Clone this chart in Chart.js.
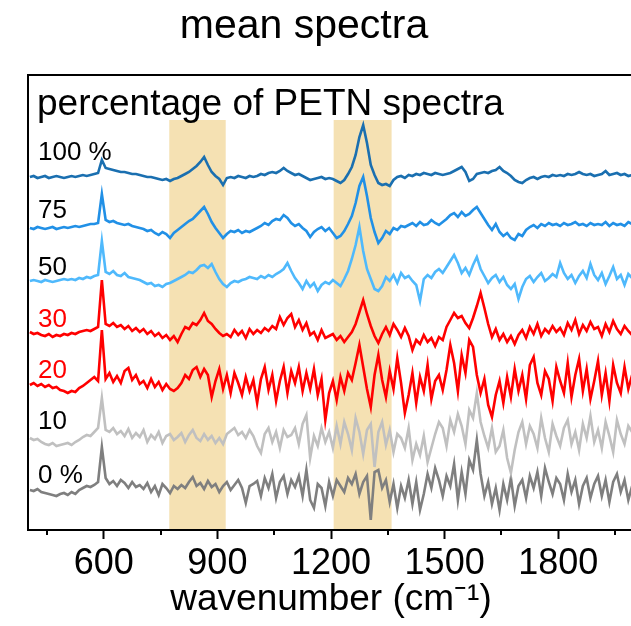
<!DOCTYPE html>
<html>
<head>
<meta charset="utf-8">
<script src="https://cdn.jsdelivr.net/npm/chart.js@4.4.1/dist/chart.umd.min.js"></script>
<style>
  html, body { margin: 0; padding: 0; background: #fff; overflow: hidden; }
  #wrap { width: 631px; height: 626px; overflow: hidden; }
</style>
</head>
<body>
<div id="wrap"><canvas id="grafico" width="660" height="626"></canvas></div>
<script>
// eixo x: numero de onda (cm-1), amostrado a cada 10
const wavenumber = [
  405, 415, 425, 435, 445, 455, 465, 475, 485, 495,
  505, 515, 525, 535, 545, 555, 565, 575, 585, 595,
  605, 615, 625, 635, 645, 655, 665, 675, 685, 695,
  705, 715, 725, 735, 745, 755, 765, 775, 785, 795,
  805, 815, 825, 835, 845, 855, 865, 875, 885, 895,
  905, 915, 925, 935, 945, 955, 965, 975, 985, 995,
  1005, 1015, 1025, 1035, 1045, 1055, 1065, 1075, 1085, 1095,
  1105, 1115, 1125, 1135, 1145, 1155, 1165, 1175, 1185, 1195,
  1205, 1215, 1225, 1235, 1245, 1255, 1265, 1275, 1285, 1295,
  1305, 1315, 1325, 1335, 1345, 1355, 1365, 1375, 1385, 1395,
  1405, 1415, 1425, 1435, 1445, 1455, 1465, 1475, 1485, 1495,
  1505, 1515, 1525, 1535, 1545, 1555, 1565, 1575, 1585, 1595,
  1605, 1615, 1625, 1635, 1645, 1655, 1665, 1675, 1685, 1695,
  1705, 1715, 1725, 1735, 1745, 1755, 1765, 1775, 1785, 1795,
  1805, 1815, 1825, 1835, 1845, 1855, 1865, 1875, 1885, 1895,
  1905, 1915, 1925, 1935, 1945, 1955, 1965, 1975, 1985, 1995
];

// espectros medios (intensidade relativa, u.a.)
const petn100 = [
  0, 1, -1, 0, 1, -1, 0, 1, 0, -1,
  0, 1, 0, 1, 2, 1, 2, 3, 4, 17,
  9, 8, 7, 6, 5, 5, 4, 3, 3, 2,
  1, 0, 0, -1, -2, -3, -2, -4, -2, -1,
  1, 3, 5, 8, 11, 15, 20, 12, 5, 1,
  -2, -8, -1, 0, -1, 1, 0, -1, 1, 0,
  1, 3, 2, 4, 5, 4, 6, 9, 6, 4,
  2, 3, 1, -1, -3, -2, -1, 0, -2, -1,
  -2, -4, -6, -3, 3, 10, 22, 40, 52, 34,
  12, 2, -6, -8, -7, -9, -3, 0, 1, -1,
  2, 1, 3, 2, 4, 3, 2, 4, 3, 2,
  3, 4, 6, 8, 10, 5, -4, -2, 3, 4,
  5, 4, 6, 7, 10, 6, 4, 1, -3, -5,
  -6, -3, -1, 0, -2, 0, 1, 0, 2, 1,
  2, 1, 3, 2, 3, 5, 3, 2, 3, 1,
  2, 3, 6, 2, 3, 4, 2, 3, 1, 2
];
const petn75 = [
  0, -1, 1, 0, -1, 0, 1, -1, 0, 1,
  0, 1, 2, 1, 2, 3, 4, 4, 5, 34,
  8, 6, 7, 5, 4, 3, 4, 2, 1, 0,
  -1, -3, -2, -5, -7, -4, -6, -10, -5, -2,
  1, 4, 7, 9, 13, 17, 21, 14, 6, 0,
  -5, -10, -6, -3, -4, -2, -5, -3, -4, -2,
  0, 2, 5, 3, 7, 9, 8, 13, 10, 5,
  2, 4, 0, -3, -9, -4, -1, 1, -3, 0,
  -5, -10, -8, -3, 4, 12, 25, 42, 51, 32,
  10, -4, -15, -10, -3, -6, 0, -2, 2, 1,
  3, 5, 2, 6, 3, 4, 8, 5, 3, 6,
  9, 13, 15, 11, 16, 12, 14, 18, 21, 15,
  9, 3, -2, 4, -4, -8, -5, -10, -12, -6,
  -8, -2, 1, 3, 0, 4, 2, 5, 3, 4,
  2, 5, 3, 4, 6, 3, 4, 2, 5, 3,
  4, 3, 6, 2, 5, 3, 4, 2, 6, 4
];
const petn50 = [
  0, 1, 0, -1, 1, 0, -1, 0, 1, 2,
  1, 2, 1, 3, 2, 4, 3, 5, 6, 40,
  9, 7, 10, 6, 5, 8, 4, 3, 2, 1,
  -1, -3, -2, -5, -4, -6, -3, -2, 0, 2,
  4, 6, 9, 8, 11, 15, 16, 13, 17, 9,
  2, -3, -6, -2, 0, -1, 1, 2, 4, 3,
  2, 5, 3, 6, 4, 7, 9, 12, 18, 10,
  3, -2, -8, 0, -6, -2, -10, -4, -1, -3,
  1, -2, -5, 2, 10, 22, 36, 54, 30, 12,
  2, -8, -10, -5, 4, 0, 6, -2, 8, 3,
  5, 0, -4, -20, 2, 6, 3, 9, 12, 8,
  14, 20, 26, 18, 8, 13, 6, 16, 24, 12,
  5, -2, 3, 6, -1, 4, -4, -8, -3, -18,
  -6, 2, 5, -1, 4, 8, 0, 3, 7, 4,
  18, 8, 2, 6, -2, 5, 10, 3, 17, 6,
  1, 8, -3, 5, 14, 2, 6, -4, 7, 3
];
const petn30 = [
  0, -2, -1, -3, -4, -2, -5, -3, -4, -2,
  -3, -1, -2, 0, 1, 2, 1, 3, 5, 52,
  8, 6, 9, 5, 7, 3, 6, 1, 4, 0,
  3, -2, 1, -4, -1, -6, -3, -8, -4, -10,
  -2, 5, 3, 9, 7, 12, 19, 11, 8, 3,
  -1, -4, -2, -5, 2, -3, 1, -6, 3, -2,
  2, -1, 4, 1, 6, 3, 15, 7, 14, 18,
  5, 12, 2, 9, -3, 0, -8, 2, -6, -4,
  -2, -8, -4, -10, -5, 0, 8, 20, 32, 18,
  6, -4, -11, -2, 5, -3, 8, 2, -5, 4,
  -4, -18, -8, -12, -3, -10, -6, -14, -5, -8,
  5, 12, 19, 14, 16, 9, 4, 14, 26, 39,
  24, 8, -5, 3, -8, -2, -10, -4, -12, -3,
  2, -6, 5, -2, 8, -4, 3, -1, 6, 0,
  4, -3, 9, 2, 12, -2, 7, 1, 10, 3,
  5, -4, 8, 0, 11, 3, -2, 6, 1, -3
];
const petn20 = [
  0, 2, -1, 1, -2, 0, -3, -2, -5, -6,
  -8, -6, -7, -3, -1, 2, 5, 8, 4, 55,
  6, 12, 3, 9, 2, 14, 17, 5, 10, 1,
  4, -3, 6, -2, 3, -5, 1, -4, -6, -3,
  2, 10, 6, 15, 18, 8, 16, 10, -12, 4,
  16, -4, 10, -8, 12, 2, -10, 8, -6, 5,
  -18, 6, 18, -5, 10, -16, 4, 18, -8, 14,
  2, 18, -6, 12, -4, 16, -10, 6, -35, -8,
  4, -15, 8, -6, 12, 5, 22, 40, 18, -4,
  -22, 10, 30, 5, -12, 14, -4, 27, 2, -28,
  -10, 12, -18, 8, -6, 20, -14, 4, 10, -5,
  15, 40, 22, -6, 30, 12, 45, 38, 10, -8,
  6, -20, -32, -10, 4, -18, 8, -12, 16, -6,
  10, -14, 20, 28, 2, -10, 14, 6, -16, 18,
  4, -8, 22, -12, 10, 26, -6, 16, -14, 4,
  24, -10, 12, -16, 20, 2, -8, 18, -4, 10
];
const petn10 = [
  2, 0, 1, -2, -4, -5, -3, -6, -5, -4,
  -3, -5, -2, 0, 3, 5, 4, 8, 12, 42,
  10, 8, 12, 6, 9, 4, 11, 2, 7, 3,
  10, -2, 5, 1, 8, -3, 4, 6, 0, 3,
  7, -2, 5, 10, 2, -1, 6, 0, 4, -3,
  2, -4, 6, 9, 12, 5, 8, 2, 10, 4,
  -6, -13, 6, 12, -2, 8, -8, 10, 3, 5,
  12, -4, 16, 25, -18, 4, -6, 12, -2, 8,
  -8, 14, -4, 18, 6, -10, 22, 8, -14, 10,
  16, -27, 8, 18, -5, 10, -12, 6, 2, -8,
  12, -20, -4, -15, 4, -22, -8, 6, 18, 12,
  -6, 20, 8, 26, 14, -4, 30, 22, 47, 18,
  4, -8, 12, -12, -6, 10, -18, -33, -10, 8,
  18, -4, 14, 6, -8, 22, 2, -12, 16, 4,
  -6, 12, 20, -4, 8, -10, 16, 2, 24, -2,
  10, -8, 18, 4, -12, 20, 6, -4, 14, 8
];
const petn0 = [
  0, -1, 1, -2, -3, -4, -5, -6, -4, -3,
  -5, -2, -4, 0, 2, 4, 3, 5, 8, 43,
  12, 6, 9, 4, 10, 7, 2, 8, 3, 5,
  1, 7, -2, 4, -5, 6, 2, -3, 4, 1,
  5, 2, 8, 13, 4, 7, 1, 9, 3, 6,
  -2, 4, 8, 0, 5, 10, 2, -13, 4, 6,
  9, -6, 12, 2, 16, -8, 8, 14, -4, 10,
  3, 14, -6, 20, -10, -18, 6, 2, -16, 8,
  -6, 10, 4, -2, 12, 6, 16, -4, 8, 14,
  -30, 18, 20, 2, 10, -12, 6, -18, 4, -8,
  10, -14, 8, -20, -4, 16, 2, 22, 10, -6,
  14, 4, 26, -10, 18, -4, 30, 20, 50, 16,
  -6, 8, -14, 2, -20, 6, -10, 12, -16, 4,
  10, -8, 14, 2, 18, -6, 22, 8, -4, 12,
  6, -10, 16, -2, 10, -14, 4, 12, -8, 6,
  14, -6, 10, -12, 8, 16, -2, 10, -10, 4
];

// deslocamento vertical de cada espectro (u.a.)
const seriesNames = ['100 %', '75', '50', '30', '20', '10', '0 %'];
const seriesValues = [petn100, petn75, petn50, petn30, petn20, petn10, petn0];
const seriesOffsets = [353, 302, 249, 198, 145, 90, 40];
const seriesColors = ['#1a6fb0', '#2190e6', '#4fb9fc', '#ff0000', '#ff0000', '#c0c0c0', '#7f7f7f'];
const labelColors = ['#000', '#000', '#000', '#ff0000', '#ff0000', '#000', '#000'];

// faixas destacadas (cm-1)
const bandStart = [773, 1207];
const bandEnd = [922, 1360];
const bandTop = 410;

const majorTicks = [600, 900, 1200, 1500, 1800];
const minorTicks = [450, 750, 1050, 1350, 1650, 1950];

const FONTE = '"Liberation Sans", Arial, sans-serif';

const datasets = seriesValues.map((vals, s) => ({
  label: seriesNames[s],
  data: wavenumber.map((w, i) => ({ x: w, y: vals[i] + seriesOffsets[s] })),
  borderColor: seriesColors[s],
  borderWidth: 2.6,
  pointRadius: 0,
  tension: 0,
  fill: false
}));

// fundo das faixas
const faixas = {
  id: 'faixas',
  beforeDatasetsDraw(chart) {
    const { ctx, chartArea, scales } = chart;
    ctx.save();
    ctx.fillStyle = '#f5e1b3';
    const top = scales.y.getPixelForValue(bandTop);
    for (let i = 0; i < bandStart.length; i++) {
      const x0 = scales.x.getPixelForValue(bandStart[i]);
      const x1 = scales.x.getPixelForValue(bandEnd[i]);
      ctx.fillRect(x0, top, x1 - x0, chartArea.bottom - top);
    }
    ctx.restore();
  }
};

// moldura, ticks menores e textos
const textos = {
  id: 'textos',
  afterDraw(chart) {
    const { ctx, chartArea, scales } = chart;
    ctx.save();
    ctx.strokeStyle = '#000';
    ctx.lineWidth = 2;
    ctx.strokeRect(chartArea.left, chartArea.top, chartArea.right - chartArea.left, chartArea.bottom - chartArea.top);

    ctx.beginPath();
    minorTicks.forEach(v => {
      const x = Math.round(scales.x.getPixelForValue(v));
      ctx.moveTo(x, chartArea.bottom);
      ctx.lineTo(x, chartArea.bottom + 5);
    });
    ctx.stroke();

    ctx.fillStyle = '#000';
    ctx.textAlign = 'center';
    ctx.textBaseline = 'alphabetic';
    ctx.font = '41px ' + FONTE;
    ctx.fillText('mean spectra', 304, 38);

    ctx.textAlign = 'left';
    ctx.font = '37px ' + FONTE;
    ctx.fillText('percentage of PETN spectra', 37, 115);

    const baselines = [160, 218, 275, 327, 378, 429, 483];
    ctx.font = '26px ' + FONTE;
    seriesNames.forEach((n, i) => {
      ctx.fillStyle = labelColors[i];
      ctx.fillText(n, 38, baselines[i]);
    });
    ctx.restore();
  }
};

const ctx = document.getElementById('grafico').getContext('2d');
new Chart(ctx, {
  type: 'line',
  data: { datasets },
  options: {
    responsive: false,
    animation: false,
    layout: { padding: { left: 28, top: 75, right: 26, bottom: 0 } },
    plugins: { legend: { display: false }, tooltip: { enabled: false }, title: { display: false } },
    scales: {
      x: {
        type: 'linear',
        min: 400,
        max: 2000,
        afterBuildTicks: (scale) => { scale.ticks = majorTicks.map(v => ({ value: v })); },
        afterFit: (scale) => { scale.height = 96; },
        ticks: { color: '#000', font: { family: FONTE, size: 36 }, padding: 3, maxRotation: 0, callback: (v) => String(v) },
        grid: { display: true, drawOnChartArea: false, drawTicks: true, tickLength: 9, tickWidth: 2, tickColor: '#000' },
        border: { display: false },
        title: { display: true, text: 'wavenumber (cm\u207B\u00B9)', color: '#000', font: { family: FONTE, size: 37 }, padding: { top: 0, bottom: 4 } }
      },
      y: {
        display: false,
        min: 0,
        max: 455
      }
    }
  },
  plugins: [faixas, textos]
});
</script>
</body>
</html>
